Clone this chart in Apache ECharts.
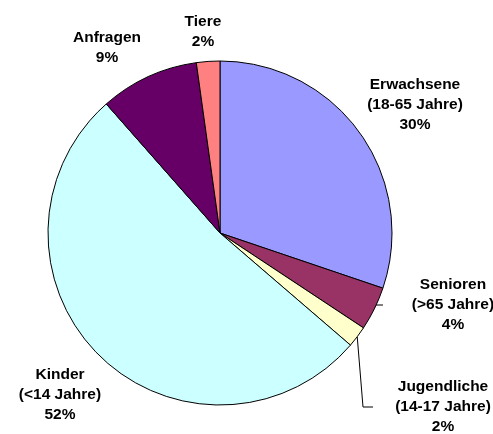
<!DOCTYPE html>
<html><head><meta charset="utf-8">
<script src="https://cdn.jsdelivr.net/npm/echarts@6/dist/echarts.min.js"></script>
<style>html,body{margin:0;padding:0;background:#fff}#c{width:493px;height:434px}</style>
</head><body><div id="c"></div>
<script>
const categories = ['Erwachsene\n(18-65 Jahre)', 'Senioren\n(>65 Jahre)', 'Jugendliche\n(14-17 Jahre)', 'Kinder\n(<14 Jahre)', 'Anfragen', 'Tiere'];
const values = [30.2, 4.1, 2.0, 52.2, 9.3, 2.2];
const colors = ['#9999FF', '#993366', '#FFFFCC', '#CCFFFF', '#660066', '#FF8080'];
const labelPos = [[415, 105], [453, 305], [443, 407], [60, 395], [107, 48], [203, 32]];
const showLine = [false, true, true, false, false, false];

const chart = echarts.init(document.getElementById('c'), null, {renderer: 'canvas'});
chart.setOption({
  animation: false,
  backgroundColor: '#fff',
  series: [{
    type: 'pie',
    center: [220, 233],
    radius: 172,
    startAngle: 90,
    clockwise: true,
    itemStyle: {borderColor: '#000', borderWidth: 1},
    label: {
      show: true,
      formatter: p => p.name + '\n' + Math.round(p.percent) + '%',
      fontFamily: 'Liberation Sans, Arial, sans-serif',
      fontWeight: 'bold',
      fontSize: 15.5,
      lineHeight: 20,
      color: '#000',
      align: 'center',
      overflow: 'none',
      width: 140
    },
    labelLine: {lineStyle: {color: '#000', width: 1}, length: 10, length2: 10},
    labelLayout: function (params) {
      const p = labelPos[params.dataIndex];
      return {x: p[0], y: p[1], align: 'center', verticalAlign: 'middle'};
    },
    data: categories.map((c, i) => ({
      name: c, value: values[i],
      itemStyle: {color: colors[i]},
      labelLine: {show: showLine[i]}
    }))
  }]
});
</script></body></html>
